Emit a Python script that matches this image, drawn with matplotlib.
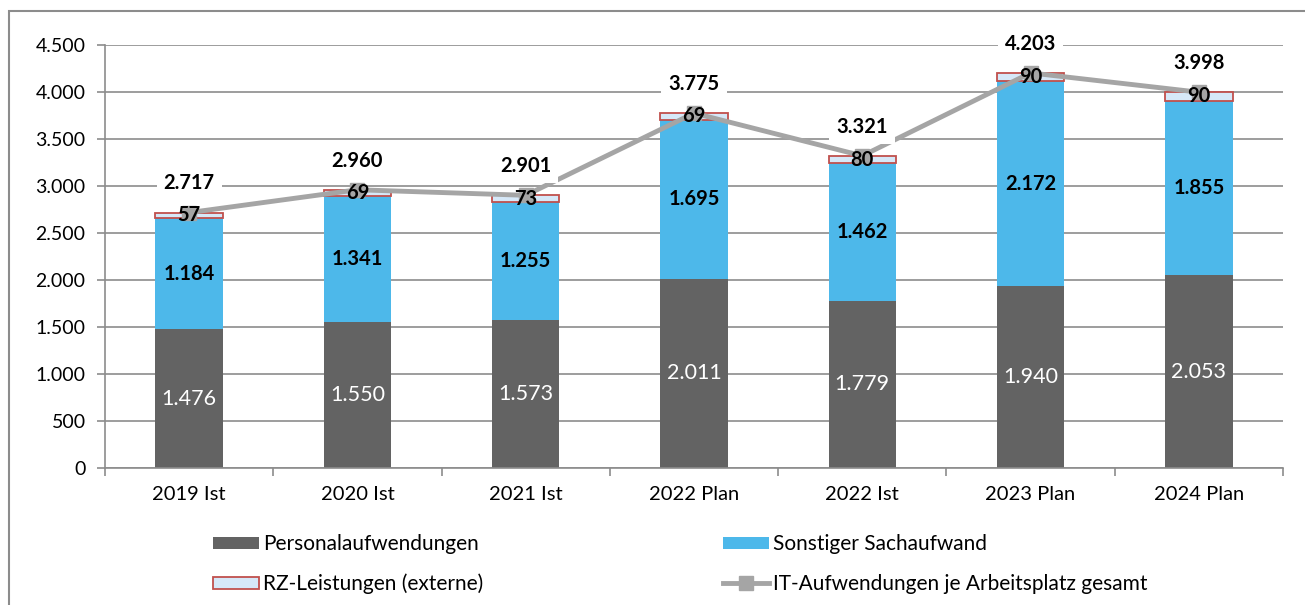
import matplotlib
matplotlib.use("Agg")
import matplotlib.pyplot as plt
from matplotlib.patches import Rectangle
from matplotlib.lines import Line2D
from matplotlib.patches import Patch

plt.rcParams['font.family'] = ['Lato', 'DejaVu Sans']

categories = ["2019 Ist", "2020 Ist", "2021 Ist", "2022 Plan", "2022 Ist", "2023 Plan", "2024 Plan"]
personal = [1476, 1550, 1573, 2011, 1779, 1940, 2053]
sach = [1184, 1341, 1255, 1695, 1462, 2172, 1855]
rz = [57, 69, 73, 69, 80, 90, 90]
total = [2717, 2960, 2901, 3775, 3321, 4203, 3998]
yticks = [0, 500, 1000, 1500, 2000, 2500, 3000, 3500, 4000, 4500]

def fmt(v):
    return f"{v:,}".replace(",", ".")

W, H = 1305, 605
fig = plt.figure(figsize=(W/100, H/100), dpi=100)
ax = fig.add_axes([105/W, (H-468)/H, (1283-105)/W, (468-45)/H])

c_pers = "#636363"
c_sach = "#4DB8EA"
c_rz = "#D6E8F8"
c_rz_edge = "#C0504D"
c_line = "#A5A5A5"
grid_c = "#8C8C8C"

x = list(range(len(categories)))
bw = 0.4
ax.bar(x, personal, bw, color=c_pers, zorder=2)
ax.bar(x, sach, bw, bottom=personal, color=c_sach, zorder=2)
bottom3 = [p + s for p, s in zip(personal, sach)]
ax.bar(x, rz, bw, bottom=bottom3, color=c_rz, edgecolor=c_rz_edge, linewidth=1.3, zorder=2)
ax.plot(x, total, color=c_line, lw=3.5, marker='s', ms=10.5, zorder=3)

for i in x:
    ax.text(i, personal[i]/2, fmt(personal[i]), ha='center', va='center', color='white', fontsize=15.5,
            zorder=4)
    ax.text(i, personal[i] + sach[i]/2, fmt(sach[i]), ha='center', va='center', color='black', fontsize=14.5,
            fontweight='bold', zorder=4)
    ax.text(i, bottom3[i] + rz[i]/2, fmt(rz[i]), ha='center', va='center', color='black', fontsize=14.5,
            fontweight='bold', zorder=5)
    ax.annotate(fmt(total[i]), (i, total[i]), xytext=(0, 21), textcoords='offset points', ha='center', va='center',
                fontsize=14.5, fontweight='bold', zorder=5,
                bbox=dict(boxstyle='square,pad=0.35', fc='white', ec='none'))

ax.set_xlim(-0.5, len(categories) - 0.5)
ax.set_ylim(0, 4500)
ax.set_yticks(yticks)
ax.set_yticklabels([fmt(v) for v in yticks], fontsize=14)
ax.set_xticks(x)
ax.set_xticklabels(categories, fontsize=14.5)
ax.set_xticks([i + 0.5 for i in range(-1, len(categories))], minor=True)
ax.tick_params(axis='x', which='major', length=0, pad=13)
ax.tick_params(axis='x', which='minor', length=6, color=grid_c, width=1.2)
ax.tick_params(axis='y', length=6, color=grid_c, width=1.2, pad=8)
ax.yaxis.grid(True, color=grid_c, lw=1.2, zorder=0)
ax.set_axisbelow(True)
for s in ['top', 'right']:
    ax.spines[s].set_visible(False)
for s in ['left', 'bottom']:
    ax.spines[s].set_color(grid_c)
    ax.spines[s].set_linewidth(1.2)

handles = [Patch(fc=c_pers, ec='none'), Patch(fc=c_rz, ec=c_rz_edge, lw=1.3),
           Patch(fc=c_sach, ec='none'),
           Line2D([0], [0], color=c_line, lw=3.5, marker='s', ms=10)]
labels = ["Personalaufwendungen", "RZ-Leistungen (externe)", "Sonstiger Sachaufwand",
          "IT-Aufwendungen je Arbeitsplatz gesamt"]
fig.legend(handles, labels, ncol=2, loc='upper left', bbox_to_anchor=(213/W, (H-534)/H),
           frameon=False, fontsize=15, handlelength=2.2, handleheight=0.5, handletextpad=0.2,
           columnspacing=11.5, labelspacing=0.95, borderpad=0, borderaxespad=0)

fig.patches.append(Rectangle((9/W, -0.01), 1.02, (H-11)/H + 0.01, transform=fig.transFigure,
                             fill=False, ec=grid_c, lw=1.5))

fig.savefig("out.png", dpi=100)
